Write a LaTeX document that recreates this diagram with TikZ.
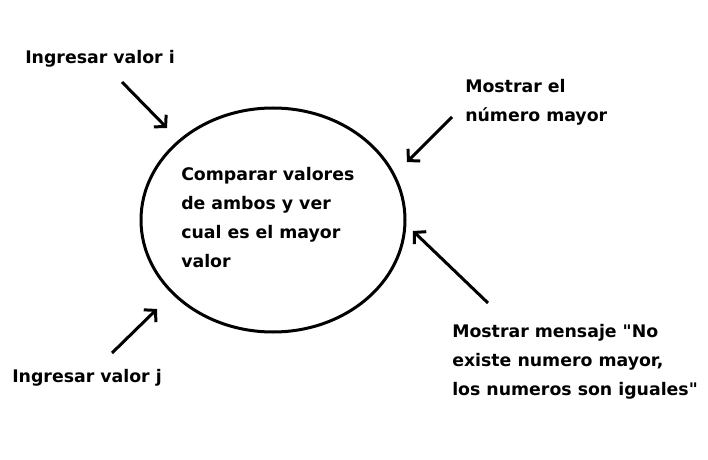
\documentclass[tikz,border=0pt]{standalone}
\usepackage{fontspec}
\setmainfont{DejaVu Sans}
\usetikzlibrary{shapes.geometric,arrows.meta}

\tikzset{
  txt/.style={anchor=west, align=left, inner sep=0pt, font=\bfseries\fontsize{13}{21.75}\selectfont},
  flecha/.style={line width=2.25pt, -{Straight Barb[length=6pt,width=13pt,line width=2.25pt]}}
}

\begin{document}
\begin{tikzpicture}[x=0.75pt, y=-0.75pt]
      \useasboundingbox (0,0) rectangle (708,460);
      %
      \node[draw=black, line width=2.25pt, ellipse, minimum width=198pt, minimum height=168pt] (proceso) at (273,220) {};
      \node[txt] (comparar) at (181,217.5) {Comparar valores\\de ambos y ver\\cual es el mayor\\valor};
      %
      \node[txt] (entradai) at (25,59) {Ingresar valor i};
      \node[txt] (entradaj) at (12,378) {Ingresar valor j};
      \node[txt] (salidamayor) at (465,102.5) {Mostrar el\\número mayor};
      \node[txt] (salidaigual) at (452,361.5) {Mostrar mensaje \textquotedbl No\\existe numero mayor,\\los numeros son iguales\textquotedbl};
      %
      \coordinate (ci1) at (122,82);   \coordinate (ci2) at (167,128);
      \coordinate (cj1) at (112,353);  \coordinate (cj2) at (157,309);
      \coordinate (cm1) at (452,117);  \coordinate (cm2) at (407,162);
      \coordinate (cg1) at (488,303);  \coordinate (cg2) at (413,231);
      %
      \draw[flecha] (ci1) -- (ci2);
      \draw[flecha] (cj1) -- (cj2);
      \draw[flecha] (cm1) -- (cm2);
      \draw[flecha] (cg1) -- (cg2);
    \end{tikzpicture}
\end{document}
